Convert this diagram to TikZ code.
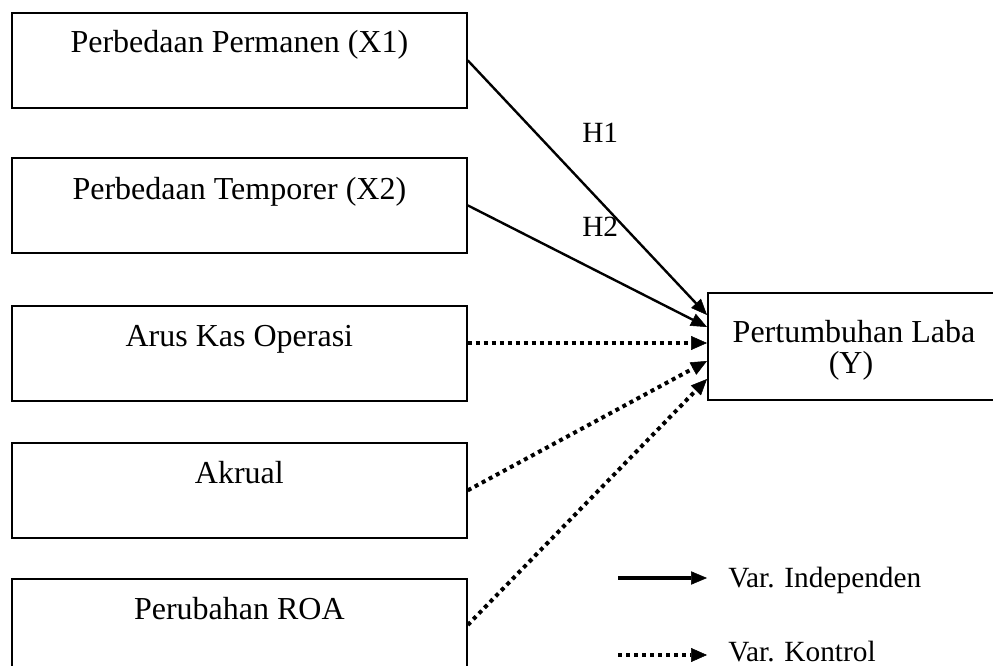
\documentclass[tikz,border=0pt]{standalone}
\usepackage{fontspec}
\setmainfont{Liberation Serif}
\usetikzlibrary{arrows.meta,calc}
\begin{document}
\begin{tikzpicture}[x=0.75pt,y=-0.75pt,
  varbox/.style={draw,line width=1.3pt,rectangle,inner sep=0pt,anchor=north west,
    minimum width=341.25pt,minimum height=71.25pt},
  boxtext/.style={font=\fontsize{24}{28}\selectfont,inner sep=0pt,anchor=base},
  smalltext/.style={font=\fontsize{22}{26}\selectfont,inner sep=0pt,anchor=base west},
  indep/.style={line width=1.8pt,-{Triangle[length=12pt,width=10pt,line width=0.4pt]}},
  ctrl/.style={line width=3pt,dash pattern=on 3pt off 3pt,-{Triangle[length=12pt,width=10.5pt,line width=0.4pt]}}
]
\useasboundingbox (0,0) rectangle (993,666);

\node[varbox] (b1) at (11,12) {};
\node[varbox] (b2) at (11,157) {};
\node[varbox] (b3) at (11,305) {};
\node[varbox] (b4) at (11,442) {};
\node[varbox] (b5) at (11,578) {};
\node[draw,line width=1.3pt,rectangle,inner sep=0pt,anchor=north west,
  minimum width=240pt,minimum height=80.25pt] (y) at (707,292) {};

\node[boxtext] (t1) at ([yshift=-30.5pt]b1.north) {Perbedaan Permanen (X1)};
\node[boxtext] (t2) at ([yshift=-32pt]b2.north) {Perbedaan Temporer (X2)};
\node[boxtext] (t3) at ([yshift=-31.5pt]b3.north) {Arus Kas Operasi};
\node[boxtext] (t4) at ([yshift=-31pt]b4.north) {Akrual};
\node[boxtext] (t5) at ([yshift=-31pt]b5.north) {Perubahan ROA};
\node[boxtext] (ty1) at (854,343) {Pertumbuhan Laba};
\node[boxtext] (ty2) at (851,374) {(Y)};

\coordinate (e1) at (707,315);
\coordinate (e2) at (707,327);
\coordinate (e3) at (707,343);
\coordinate (e4) at (707,361);
\coordinate (e5) at (707,379);

\draw[indep] (b1.east) -- (e1);
\draw[indep] (b2.east) -- (e2);
\draw[ctrl] (b3.east |- e3) -- (e3);
\draw[ctrl] (b4.east) -- (e4);
\draw[ctrl] (b5.east |- 0,625) -- (e5);

\node[smalltext] (h1) at (582,143) {H1};
\node[smalltext] (h2) at (582,237) {H2};

\coordinate (l1a) at (618,578);
\coordinate (l1b) at (707,578);
\coordinate (l2a) at (618,655);
\coordinate (l2b) at (707,655);
\draw[line width=2.4pt,-{Triangle[length=12pt,width=10pt,line width=0.4pt]}] (l1a) -- (l1b);
\draw[ctrl] (l2a) -- (l2b);
\node[smalltext] (lg1) at (728,587) {Var. Independen};
\node[smalltext] (lg2) at (728,661) {Var. Kontrol};
\end{tikzpicture}
\end{document}
